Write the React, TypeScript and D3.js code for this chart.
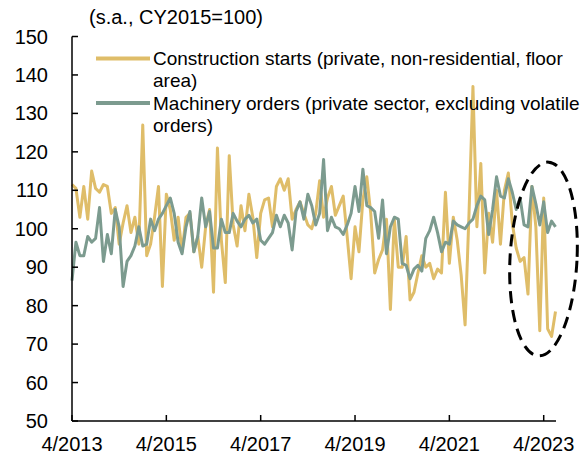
import React from 'react';
import * as d3 from 'd3';

// monthly, 4/2013 .. 7/2023 (s.a., CY2015=100)
const construction = [
  111.5, 110.5, 103, 111, 102.5, 115, 110.5, 109.5, 111.5, 111,
  104, 105.5, 96, 101.5, 106, 99, 103, 96, 127, 93,
  96, 103, 111, 85, 109, 105, 97, 103, 94, 103,
  104, 94, 98, 90, 100.5, 105, 83.5, 121, 97, 86,
  119, 101, 95.5, 106, 99.5, 109, 103, 92.5, 104, 107.5,
  108, 100.5, 111, 113, 110, 113, 102.5, 105, 107, 104,
  101, 100, 104, 112.5, 103, 108, 111, 103.5, 106, 108.5,
  98, 87, 100.5, 94, 107.5, 113.5, 104, 88.5, 92, 94.5,
  102.5, 79, 102.5, 90, 90, 98, 81.5, 83.5, 88.5, 93,
  90, 91, 87, 89.5, 88.5, 109.5, 91, 103, 97, 88,
  75, 104, 137, 100.5, 117, 88.5, 104, 96.5, 110, 96,
  110, 114.5, 101.5, 95, 91.5, 92.5, 83, 111, 100.5, 73.5,
  108, 74, 72, 78.5,
];

const machinery = [
  86.5, 96.5, 93, 93, 98, 96.5, 97.5, 105.5, 91.5, 98.5,
  93.5, 105, 100.5, 85, 91.5, 93, 95.5, 100.5, 95.5, 96,
  102.5, 99.5, 102.5, 104, 106, 108, 104, 96.5, 93.5, 100.5,
  104.5, 94, 98, 108, 100.5, 104.5, 95, 95, 102.5, 99,
  99, 104, 102, 100.5, 102.5, 103.5, 101.5, 102.5, 97, 96,
  97.5, 99, 103.5, 100.5, 103.5, 101.5, 94.5, 104.5, 107, 102.5,
  109, 106, 101, 104, 118, 99.5, 103, 100.5, 100, 98.5,
  101, 104, 111, 104.5, 115.5, 106, 105.5, 104.5, 97.5, 107.5,
  93.5, 100.5, 103, 102.5, 91, 90.5, 87, 89.5, 90.5, 89,
  97.5, 99.5, 103, 99, 94, 96.5, 96, 102, 101, 100.5,
  100, 101.5, 102.5, 106, 108.5, 107.5, 98.5, 105, 113.5, 108.5,
  108, 113, 109.5, 105, 108, 101, 100.5, 111, 106.5, 101,
  107, 99, 102, 100.5,
];

const xTickIndex = [0, 24, 48, 72, 96, 120];
const xTickLabels = ['4/2013', '4/2015', '4/2017', '4/2019', '4/2021', '4/2023'];
const yTicks = [50, 60, 70, 80, 90, 100, 110, 120, 130, 140, 150];

const legendItems = [
  { lines: ['Construction starts (private, non-residential, floor', 'area)'], color: '#DFBD69' },
  { lines: ['Machinery orders (private sector, excluding volatile', 'orders)'], color: '#7C9B8F' },
];

const App = () => {
  const width = 580;
  const height = 461;
  const left = 72;
  const right = 555.5;
  const top = 36.5;
  const bottom = 421;

  const x = d3.scaleLinear().domain([0, construction.length - 1]).range([left, right]);
  const y = d3.scaleLinear().domain([50, 150]).range([bottom, top]);

  const line = d3.line<number>()
    .x((d, i) => x(i))
    .y(d => y(d));

  const font = "'Liberation Sans', Arial, sans-serif";

  return (
    <svg
      width={width}
      height={height}
      viewBox={`0 0 ${width} ${height}`}
      style={{ position: 'absolute', left: 0, top: 0, fontFamily: font }}
    >
      <rect width={width} height={height} fill="#fff" />

      {/* title / unit */}
      <text x={89} y={24} fontSize={20} fill="#000">(s.a., CY2015=100)</text>

      {/* series */}
      <path d={line(construction) ?? ''} fill="none" stroke="#DFBD69" strokeWidth={3} strokeLinejoin="round" />
      <path d={line(machinery) ?? ''} fill="none" stroke="#7C9B8F" strokeWidth={3} strokeLinejoin="round" />

      {/* axes */}
      <g stroke="#000" strokeWidth={1.5}>
        <line x1={left} x2={left} y1={top} y2={bottom} />
        <line x1={left} x2={556} y1={bottom} y2={bottom} />
        {yTicks.map(t => (
          <line key={t} x1={left} x2={left + 6} y1={y(t)} y2={y(t)} />
        ))}
        {xTickIndex.map(t => (
          <line key={t} x1={x(t)} x2={x(t)} y1={bottom} y2={bottom - 6} />
        ))}
      </g>
      {yTicks.map(t => (
        <text key={t} x={48} y={y(t)} dy="0.35em" textAnchor="end" fontSize={20} fill="#000">{t}</text>
      ))}
      {xTickIndex.map((t, i) => (
        <text key={t} x={x(t)} y={451} textAnchor="middle" fontSize={20} fill="#000">{xTickLabels[i]}</text>
      ))}

      {/* legend */}
      {legendItems.map((item, i) => {
        const cy = 58.5 + i * 44.5;
        return (
          <g key={i}>
            <line x1={96} x2={150} y1={cy} y2={cy} stroke={item.color} strokeWidth={4} />
            {item.lines.map((s, j) => (
              <text key={j} x={153} y={cy + 6.5 + j * 22} fontSize={19} fill="#000">{s}</text>
            ))}
          </g>
        );
      })}

      {/* dashed ellipse around the latest months */}
      <ellipse
        cx={543.5}
        cy={259}
        rx={33.5}
        ry={97}
        fill="none"
        stroke="#000"
        strokeWidth={3}
        strokeDasharray="12 7"
        transform="rotate(3 543.5 259)"
      />
    </svg>
  );
};

export default App;
